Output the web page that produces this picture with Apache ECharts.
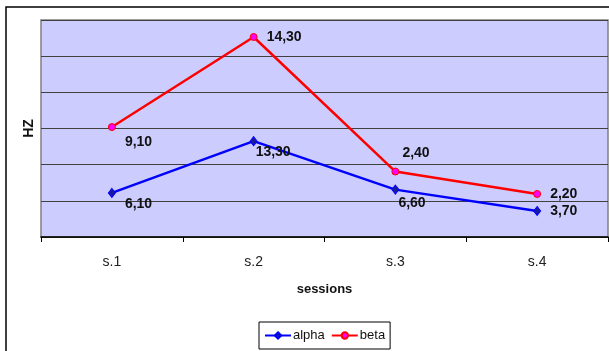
<!DOCTYPE html>
<html>
<head>
<meta charset="utf-8">
<script src="https://cdn.jsdelivr.net/npm/echarts@6/dist/echarts.min.js"></script>
<style>
	html, body { margin: 0; padding: 0; background: #fff; }
	#main { width: 609px; height: 351px; }
</style>
</head>
<body>
<div id="main"></div>
<script>
// categories and series (y axis has no scale labels, values read from point heights)
var sessions = ['s.1', 's.2', 's.3', 's.4'];
var alphaValues = [1.22, 2.65, 1.31, 0.72];
var betaValues = [3.04, 5.53, 1.81, 1.19];
// the printed data labels
var alphaLabels = ['6,10', '13,30', '6,60', '3,70'];
var betaLabels = ['9,10', '14,30', '2,40', '2,20'];

var font = '"Liberation Sans", Arial, sans-serif';

// where each label sits relative to its point
var alphaOffsets = [[13, 11], [2, 11], [3, 14], [13, 0]];
var betaOffsets = [[13, 15], [13, 0], [7, -18], [13, 0]];

function buildData(values, labels, offsets) {
	return values.map(function (v, i) {
		return {
			value: v,
			label: { formatter: labels[i], offset: offsets[i] }
		};
	});
}

var labelStyle = {
	show: true,
	position: 'inside',
	align: 'left',
	verticalAlign: 'middle',
	fontFamily: font,
	fontWeight: 'bold',
	fontSize: 14,
	color: '#111'
};

var myChart = echarts.init(document.getElementById('main'));
myChart.setOption({
	backgroundColor: '#fff',
	animation: false,
	graphic: [{
		type: 'rect',
		shape: { x: 6, y: 7, width: 700, height: 400 },
		style: { fill: 'none', stroke: '#000', lineWidth: 1.5 },
		z: -1
	}],
	grid: {
		left: 41, top: 20, right: 1, bottom: 114,
		show: true,
		backgroundColor: '#CCCCFF',
		borderColor: '#808080',
		borderWidth: 1.5
	},
	legend: {
		left: 259, top: 322,
		padding: [7, 5],
		itemWidth: 26, itemHeight: 8, itemGap: 6,
		borderColor: '#000', borderWidth: 1,
		backgroundColor: '#fff',
		textStyle: { fontFamily: font, fontSize: 13, color: '#111', padding: [0, 0, 0, -3] },
		data: ['alpha', 'beta']
	},
	xAxis: {
		type: 'category',
		data: sessions,
		boundaryGap: true,
		name: 'sessions',
		nameLocation: 'middle',
		nameGap: 46,
		nameTextStyle: { fontFamily: font, fontWeight: 'bold', fontSize: 13, color: '#111' },
		axisLine: { lineStyle: { color: '#000', width: 1.5 } },
		axisTick: { show: true, length: 5, lineStyle: { color: '#000' } },
		axisLabel: { margin: 18, fontFamily: font, fontSize: 14, color: '#222' }
	},
	yAxis: {
		type: 'value',
		min: 0, max: 6, interval: 1,
		name: 'HZ',
		nameLocation: 'middle',
		nameGap: 5,
		nameTextStyle: { fontFamily: font, fontWeight: 'bold', fontSize: 14, color: '#111' },
		axisLine: { show: false },
		axisTick: { show: false },
		axisLabel: { show: false },
		splitLine: { lineStyle: { color: '#404040', width: 1.2 } }
	},
	series: [{
		name: 'alpha',
		type: 'line',
		data: buildData(alphaValues, alphaLabels, alphaOffsets),
		symbol: 'diamond',
		symbolSize: [7, 9],
		itemStyle: { color: '#1a1a9a', borderColor: '#0000ff', borderWidth: 1 },
		lineStyle: { color: '#0000ff', width: 2.5 },
		label: labelStyle,
		z: 3
	}, {
		name: 'beta',
		type: 'line',
		data: buildData(betaValues, betaLabels, betaOffsets),
		symbol: 'circle',
		symbolSize: 7,
		itemStyle: { color: '#ff00ff', borderColor: '#ff0000', borderWidth: 1 },
		lineStyle: { color: '#ff0000', width: 2.5 },
		label: labelStyle,
		z: 3
	}]
});
</script>
</body>
</html>
